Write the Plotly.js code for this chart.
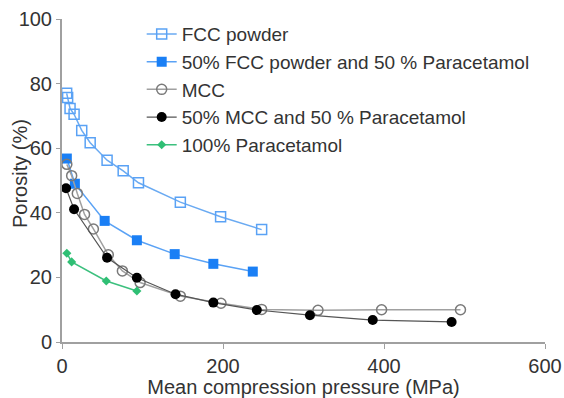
<!DOCTYPE html>
<html>
<head>
<meta charset="utf-8">
<script src="https://cdn.plot.ly/plotly-3.0.1.min.js"></script>
<style>html,body{margin:0;padding:0;background:#fff;}#chart{width:564px;height:398px;}</style>
</head>
<body>
<div id="chart"></div>
<script>
// Data
const seriesNames = ["FCC powder", "50% FCC powder and 50 % Paracetamol", "MCC", "50% MCC and 50 % Paracetamol", "100% Paracetamol"];

const fccX = [5.8, 7, 10, 15, 24.5, 35, 56, 76, 95, 147, 197, 248];
const fccY = [77, 75.7, 72.3, 70.5, 65.5, 61.7, 56.3, 53, 49.3, 43.3, 38.8, 34.8];

const fccParX = [6, 16, 53, 93, 140, 188, 237];
const fccParY = [56.8, 49, 37.5, 31.5, 27.2, 24.2, 21.8];

const mccX = [6, 12, 19, 28, 39, 57.5, 75, 97, 147, 197.5, 248, 318, 397, 495];
const mccY = [55, 51.5, 46, 39.5, 35, 27, 22, 18.4, 14.2, 12, 10.1, 9.8, 10, 10];

const mccParX = [5, 15, 56, 93, 141, 188, 242, 308, 386, 484];
const mccParY = [47.6, 41.1, 26.1, 19.9, 14.8, 12.2, 9.9, 8.3, 6.8, 6.2];

const parX = [6, 12, 55, 93];
const parY = [27.5, 24.8, 18.9, 15.8];

const xTicks = [0, 200, 400, 600];
const yTicks = [0, 20, 40, 60, 80, 100];

const FONT = "Liberation Sans, Arial, Helvetica, sans-serif";
const TXT = "#333";

const traces = [
  {x: fccX, y: fccY, name: seriesNames[0], legendgroup: "a", mode: "lines+markers",
   line: {color: "#6aaaf2", width: 1.5},
   marker: {symbol: "square-open", size: 10, color: "#5aa2f5", line: {width: 1.5}}},
  {x: fccParX, y: fccParY, name: seriesNames[1], legendgroup: "b", mode: "lines+markers",
   line: {color: "#5aa2f5", width: 1.5},
   marker: {symbol: "square", size: 10, color: "#1a7ff5"}},
  {x: mccX, y: mccY, name: seriesNames[2], legendgroup: "c", mode: "lines+markers",
   line: {color: "#a0a0a0", width: 1.5},
   marker: {symbol: "circle-open", size: 10, color: "#7a7a7a", line: {width: 1.5}}},
  {x: mccParX, y: mccParY, name: seriesNames[3], legendgroup: "d", mode: "lines+markers",
   line: {color: "#555555", width: 1.2},
   marker: {symbol: "circle", size: 10, color: "#000000"}},
  {x: parX, y: parY, name: seriesNames[4], legendgroup: "e", mode: "lines+markers",
   line: {color: "#3cc07e", width: 1.5},
   marker: {symbol: "diamond", size: 7, color: "#2fbf74"}}
];

const layout = {
  width: 564, height: 398,
  margin: {l: 62, r: 19, t: 19, b: 56, pad: 0},
  paper_bgcolor: "#fff", plot_bgcolor: "#fff",
  font: {family: FONT, size: 20, color: TXT},
  showlegend: true,
  legend: {x: 0.165, y: 1.012, xanchor: "left", yanchor: "top",
           bgcolor: "rgba(0,0,0,0)", font: {family: FONT, size: 19, color: TXT},
           tracegroupgap: 0, itemwidth: 30},
  xaxis: {range: [0, 600], tickvals: xTicks, ticktext: xTicks.map(String),
          showgrid: false, zeroline: false, showline: true, linecolor: "#a0a0a0", linewidth: 2,
          ticks: "outside", ticklen: 5, tickcolor: "#a0a0a0", tickwidth: 1,
          tickfont: {family: FONT, size: 20, color: TXT},
          title: {text: "Mean compression pressure (MPa)", font: {family: FONT, size: 20, color: TXT}, standoff: 2}},
  yaxis: {range: [0, 100], tickvals: yTicks, ticktext: yTicks.map(String),
          showgrid: false, zeroline: false, showline: true, linecolor: "#a0a0a0", linewidth: 2,
          ticks: "outside", ticklen: 4, tickcolor: "#a0a0a0", tickwidth: 1,
          tickfont: {family: FONT, size: 20, color: TXT}},
  annotations: [{text: "Porosity (%)", xref: "paper", yref: "paper", x: 0, y: 0.52,
                 xanchor: "center", yanchor: "middle", xshift: -42, textangle: -90,
                 showarrow: false, font: {family: FONT, size: 20, color: TXT}}]
};

Plotly.newPlot("chart", traces, layout, {staticPlot: true, displayModeBar: false});
</script>
</body>
</html>
